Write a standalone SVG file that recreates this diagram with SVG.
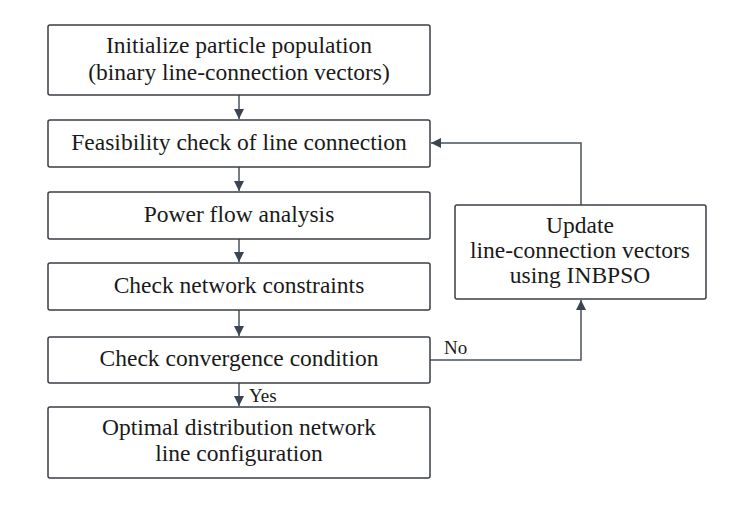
<svg xmlns="http://www.w3.org/2000/svg" width="755" height="505" viewBox="0 0 755 505">
<style>
.box{fill:#fff;stroke:#3a3f46;stroke-width:1.5}
.t{font-family:"Liberation Serif","Times New Roman",serif;font-size:23.5px;fill:#1a1a1a;text-anchor:middle}
.l{font-family:"Liberation Serif","Times New Roman",serif;font-size:19px;fill:#1a1a1a}
.c{fill:none;stroke:#4a525c;stroke-width:1.5}
</style>
<defs>
<marker id="ah" viewBox="0 0 10 10" refX="10" refY="5" markerWidth="10" markerHeight="10" markerUnits="userSpaceOnUse" orient="auto">
<path d="M0,0 L10,5 L0,10 z" fill="#3a4452"/>
</marker>
</defs>
<rect width="755" height="505" fill="#fff"/>
<g id="connectors">
<line class="c" x1="239" y1="95" x2="239" y2="119" marker-end="url(#ah)"/>
<line class="c" x1="239" y1="167" x2="239" y2="191" marker-end="url(#ah)"/>
<line class="c" x1="239" y1="239" x2="239" y2="262" marker-end="url(#ah)"/>
<line class="c" x1="239" y1="310" x2="239" y2="336" marker-end="url(#ah)"/>
<line class="c" x1="239" y1="383" x2="239" y2="406" marker-end="url(#ah)"/>
<polyline class="c" points="430,360 581,360 581,300" marker-end="url(#ah)"/>
<polyline class="c" points="581,205 581,143 431,143" marker-end="url(#ah)"/>
<text class="l" x="249" y="402">Yes</text>
<text class="l" x="444" y="354">No</text>
</g>
<g id="n1"><rect class="box" x="48" y="25" width="382" height="70" rx="2"/><text class="t" x="239" y="53">Initialize particle population</text><text class="t" x="239" y="80">(binary line-connection vectors)</text></g>
<g id="n2"><rect class="box" x="48" y="120" width="382" height="47" rx="2"/><text class="t" x="239" y="150">Feasibility check of line connection</text></g>
<g id="n3"><rect class="box" x="48" y="192" width="382" height="47" rx="2"/><text class="t" x="239" y="222">Power flow analysis</text></g>
<g id="n4"><rect class="box" x="48" y="263" width="382" height="47" rx="2"/><text class="t" x="239" y="293">Check network constraints</text></g>
<g id="n5"><rect class="box" x="48" y="337" width="382" height="46" rx="2"/><text class="t" x="239" y="366">Check convergence condition</text></g>
<g id="n6"><rect class="box" x="48" y="407" width="382" height="71" rx="2"/><text class="t" x="239" y="435">Optimal distribution network</text><text class="t" x="239" y="461">line configuration</text></g>
<g id="n7"><rect class="box" x="455" y="205" width="251" height="94" rx="2"/><text class="t" x="580" y="233">Update</text><text class="t" x="580" y="258">line-connection vectors</text><text class="t" x="580" y="283">using INBPSO</text></g>
</svg>
